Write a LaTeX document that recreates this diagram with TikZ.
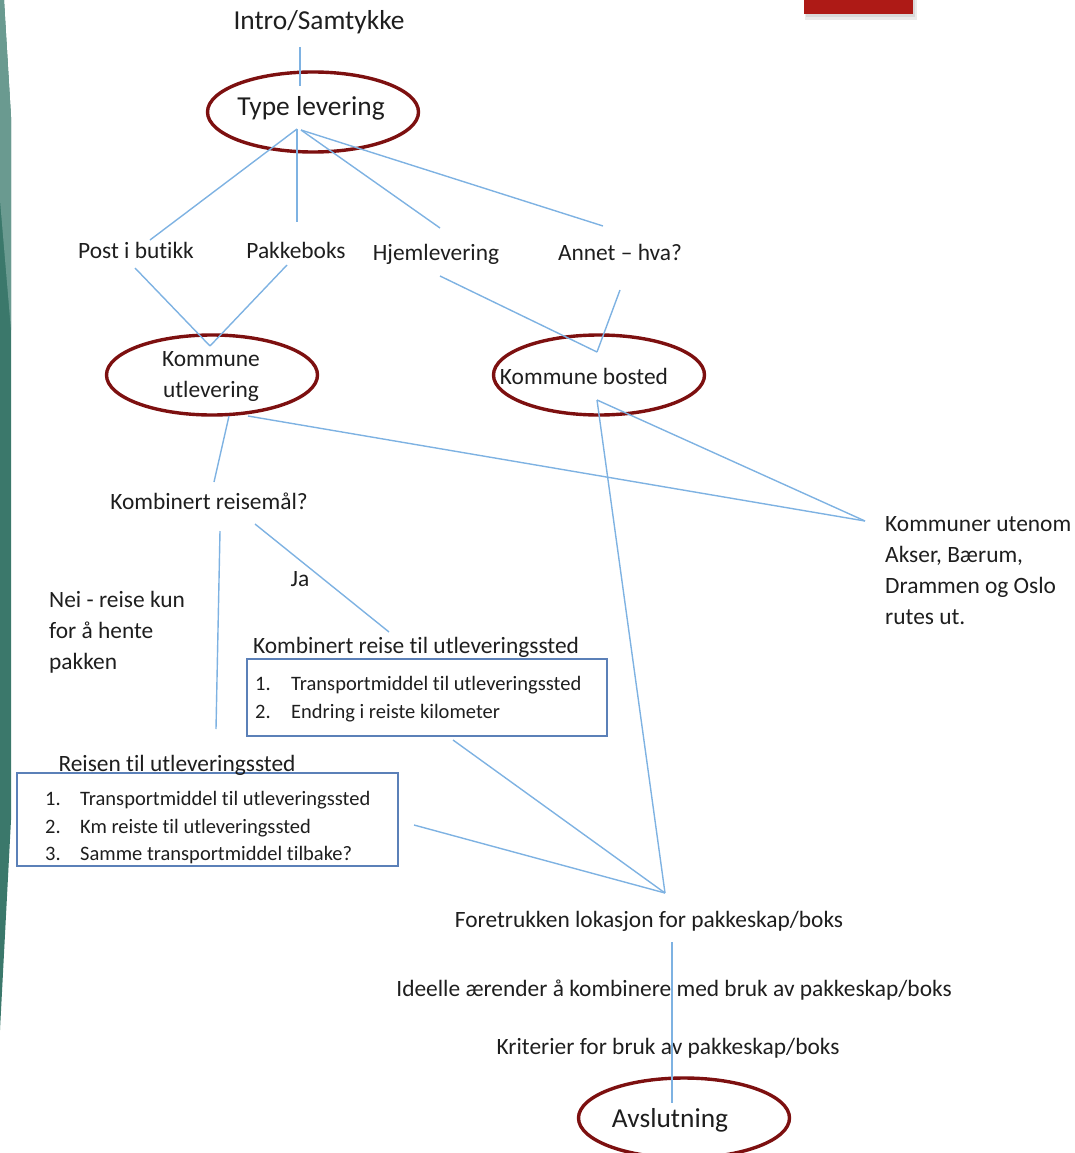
\documentclass[tikz,border=0pt]{standalone}
\usepackage{fontspec}
\setmainfont{Carlito}[Ligatures=NoCommon]
\usetikzlibrary{shapes.geometric}
\definecolor{lineblue}{HTML}{7EB2E2}
\definecolor{ellred}{HTML}{7D1010}
\definecolor{boxblue}{HTML}{5B80B8}
\definecolor{txt}{HTML}{1E1E1E}
\definecolor{tealdark}{HTML}{3B786B}
\definecolor{teallight}{HTML}{6A9A90}
\definecolor{topred}{HTML}{AE1A16}
\tikzset{
  x=1pt, y=-1pt,
  conn/.style={draw=lineblue, line width=1.4pt},
  ell/.style={ellipse, draw=ellred, line width=3.4pt, inner sep=0pt},
  big/.style={text=txt, inner sep=0pt, font=\fontsize{27.4}{32}\selectfont, text height=0.72em, text depth=0.22em, yshift=-6pt},
  lbl/.style={text=txt, inner sep=0pt, font=\fontsize{23.4}{31}\selectfont, text height=0.72em, text depth=0.22em, yshift=-5.5pt},
  mlbl/.style={text=txt, inner sep=0pt, font=\fontsize{23.4}{31}\selectfont, align=left},
  item/.style={text=txt, inner sep=0pt, font=\fontsize{20.5}{27}\selectfont, text height=0.72em, text depth=0.22em, anchor=west, yshift=-5pt},
  listbox/.style={rectangle, draw=boxblue, line width=1.3pt, inner sep=0pt}
}
\begin{document}
\begin{tikzpicture}
\useasboundingbox (0,0) rectangle (1075,1153);
% left decoration
\fill[tealdark] (0,0) -- (4,0) -- (11,117) -- (11,820) -- (0,1030) -- cycle;
\fill[teallight] (0,0) -- (4,0) -- (11,117) -- (11,330) -- (0,200) -- cycle;
% top-right red bar with shadow
\fill[black!8] (805,0) rectangle (917,20);
\fill[black!15] (806,0) rectangle (915,17);
\fill[topred] (804,0) rectangle (913,14);

% ellipses
\node[ell, minimum width=211pt, minimum height=80pt] (tlE) at (313,112) {};
\node[ell, minimum width=211pt, minimum height=80pt] (kuE) at (212,375) {};
\node[ell, minimum width=211pt, minimum height=80pt] (kbE) at (599,375) {};
\node[ell, minimum width=211pt, minimum height=80pt] (avE) at (684,1118) {};

% boxes
\node[listbox, minimum width=360pt, minimum height=77pt] (box2) at (427,697.5) {};
\node[listbox, minimum width=381pt, minimum height=93pt] (box1) at (207.5,819.5) {};

% texts
\node[big] (intro) at (319,21) {Intro/Samtykke};
\node[big] (tl) at (311,107) {Type levering};
\node[lbl] (pib) at (136,250) {Post i butikk};
\node[lbl] (pak) at (296,250) {Pakkeboks};
\node[lbl] (hjem) at (436,252) {Hjemlevering};
\node[lbl] (annet) at (620,252) {Annet -- hva?};
\node[mlbl, align=center] (ku) at (211,377) {Kommune\\utlevering};
\node[lbl] (kb) at (584,376) {Kommune bosted};
\node[lbl] (kr) at (209,501) {Kombinert reisemål?};
\node[lbl] (ja) at (300,578) {Ja};
\node[mlbl, anchor=west] (nei) at (49,632) {Nei - reise kun\\for å hente\\pakken};
\node[mlbl, anchor=west] (kut) at (885,571) {Kommuner utenom\\Akser, Bærum,\\Drammen og Oslo\\rutes ut.};
\node[lbl] (kombi) at (416,645) {Kombinert reise til utleveringssted};
\node[item] (b2n1) at (255,683) {1.};
\node[item] (b2t1) at (291,683) {Transportmiddel til utleveringssted};
\node[item] (b2n2) at (255,711) {2.};
\node[item] (b2t2) at (291,711) {Endring i reiste kilometer};
\node[lbl] (reisen) at (177,763) {Reisen til utleveringssted};
\node[item] (b1n1) at (45,798) {1.};
\node[item] (b1t1) at (80,798) {Transportmiddel til utleveringssted};
\node[item] (b1n2) at (45,826) {2.};
\node[item] (b1t2) at (80,826) {Km reiste til utleveringssted};
\node[item] (b1n3) at (45,853) {3.};
\node[item] (b1t3) at (80,853) {Samme transportmiddel tilbake?};
\node[lbl] (fore) at (649,919) {Foretrukken lokasjon for pakkeskap/boks};
\node[lbl] (ideelle) at (674,988) {Ideelle ærender å kombinere med bruk av pakkeskap/boks};
\node[lbl] (krit) at (668,1046) {Kriterier for bruk av pakkeskap/boks};
\node[big] (avs) at (670,1119) {Avslutning};

% connector end points
\coordinate (introB) at (300,47);
\coordinate (tlT) at (300,86);
\coordinate (tlH) at (297,129);
\coordinate (tlH2) at (301,130);
\coordinate (pibT) at (150,240);
\coordinate (pakT) at (297,222);
\coordinate (hjemT) at (440,228);
\coordinate (annetT) at (603,226);
\coordinate (pibB) at (135,268);
\coordinate (pakB) at (287,265);
\coordinate (kuT) at (210,346);
\coordinate (hjemB) at (440,276);
\coordinate (annetB) at (620,290);
\coordinate (kbT) at (597,352);
\coordinate (kuB1) at (229,416);
\coordinate (kuB2) at (248,416);
\coordinate (krT) at (214,482);
\coordinate (kutL) at (865,521);
\coordinate (kbB) at (597,400);
\coordinate (foreT) at (665,893);
\coordinate (krB1) at (220,531);
\coordinate (krB2) at (255,524);
\coordinate (reisenT) at (216,729);
\coordinate (kombiT) at (389,632);
\coordinate (box2B) at (453,740);
\coordinate (box1R) at (414,825);
\coordinate (foreB) at (672,942);
\coordinate (avsT) at (672,1103);

\draw[conn] (introB) -- (tlT);
\draw[conn] (tlH) -- (pibT);
\draw[conn] (tlH) -- (pakT);
\draw[conn] (tlH2) -- (hjemT);
\draw[conn] (tlH2) -- (annetT);
\draw[conn] (pibB) -- (kuT);
\draw[conn] (pakB) -- (kuT);
\draw[conn] (hjemB) -- (kbT);
\draw[conn] (annetB) -- (kbT);
\draw[conn] (kuB1) -- (krT);
\draw[conn] (kuB2) -- (kutL);
\draw[conn] (kbB) -- (kutL);
\draw[conn] (kbB) -- (foreT);
\draw[conn] (krB1) -- (reisenT);
\draw[conn] (krB2) -- (kombiT);
\draw[conn] (box2B) -- (foreT);
\draw[conn] (box1R) -- (foreT);
\draw[conn] (foreB) -- (avsT);
\end{tikzpicture}
\end{document}
